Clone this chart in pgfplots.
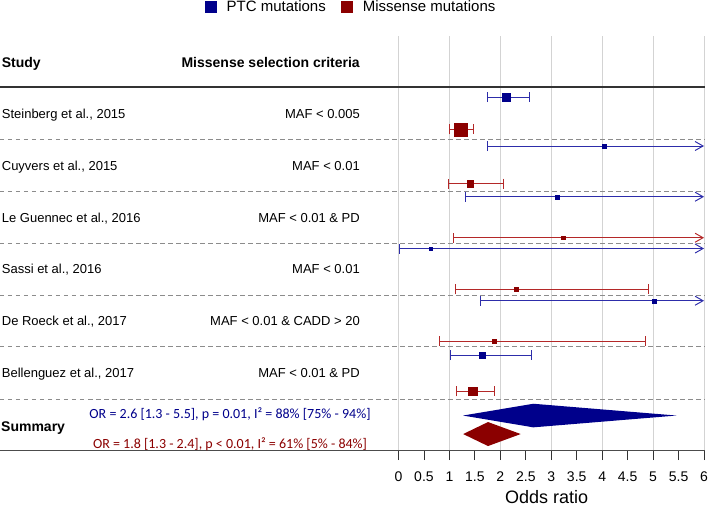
\documentclass[border=0pt]{standalone}
\usepackage{pgfplots}
\pgfplotsset{compat=1.18}
\usepackage{fontspec}
\setmainfont{Liberation Sans}
\newfontfamily\carlito{Carlito}
\usetikzlibrary{arrows.meta}
\definecolor{ptc}{RGB}{0,0,139}
\definecolor{mis}{RGB}{139,0,0}
\definecolor{ptcl}{RGB}{45,45,170}
\definecolor{misl}{RGB}{180,40,40}
\definecolor{gridc}{RGB}{211,211,211}
\definecolor{dashc}{RGB}{140,140,140}
\pgfplotsset{
  ci/.style={line width=0.95pt, no marks, forget plot},
  both/.style={arrows={Bar[width=10pt]-Bar[width=10pt]}},
  open/.style={arrows={Bar[width=10pt]-Straight Barb[length=8pt,width=9pt]}},
  pt/.style={only marks, mark=square*, forget plot, mark options={draw=none}},
}
\begin{document}
\begin{tikzpicture}
\begin{axis}[
  scale only axis, width=305.5pt, height=414pt,
  xmin=0, xmax=6, ymin=-450, ymax=-36,
  axis y line=none, axis x line*=bottom,
  axis line style={draw=none},
  xtick={0,1,...,6}, extra x ticks={0.5,1.5,...,5.5},
  extra x tick style={grid=none},
  xmajorgrids, grid style={gridc, line width=0.8pt},
  tick align=outside, major tick length=10pt,
  tick style={black!80, line width=0.8pt},
  /pgf/number format/assume math mode=true,
  xticklabel style={font=\fontsize{14}{16}\selectfont, yshift=-8pt},
  clip=false,
  legend columns=2,
  legend style={draw=none, fill=none, at={(axis cs:-0.933,-7)}, anchor=center,
    font=\fontsize{15}{18}\selectfont,
    /tikz/every even column/.append style={column sep=13pt}},
  legend image code/.code={\fill[#1] (0pt,-6.2pt) rectangle (12.4pt,6.2pt); \path (20pt,0pt);},
]
\addlegendimage{fill=ptc, draw=none}
\addlegendentry{PTC mutations}
\addlegendimage{fill=mis, draw=none}
\addlegendentry{Missense mutations}

% separators
\draw[black!80, line width=1.2pt] (axis cs:-7.826,-87) -- (axis cs:6.01,-87);
\pgfplotsinvokeforeach{-139.7,-191.7,-243.3,-295,-346.7,-399}{
  \draw[dashc, line width=0.9pt, dash pattern=on 4.5pt off 3.5pt] (axis cs:-7.826,#1) -- (axis cs:6.01,#1);
}
\draw[black!70, line width=1.5pt] (axis cs:-7.826,-450.3) -- (axis cs:6.01,-450.3);

% Steinberg
\addplot[ptcl, ci, both] coordinates {(1.744,-97) (2.577,-97)};
\addplot[ptc, pt, mark size=4pt] coordinates {(2.11,-97)};
\addplot[misl, ci, both] coordinates {(0.998,-129.3) (1.483,-129.3)};
\addplot[mis, pt, mark size=6.5pt] coordinates {(1.214,-129.3)};
% Cuyvers
\addplot[ptcl, ci, open] coordinates {(1.744,-146) (6,-146)};
\addplot[ptc, pt, mark size=1.75pt] coordinates {(4.036,-146)};
\addplot[misl, ci, both] coordinates {(0.972,-183.7) (2.072,-183.7)};
\addplot[mis, pt, mark size=3.3pt] coordinates {(1.41,-183.7)};
% Le Guennec
\addplot[ptcl, ci, open] coordinates {(1.30,-196.7) (6,-196.7)};
\addplot[ptc, pt, mark size=2pt] coordinates {(3.126,-196.7)};
\addplot[misl, ci, open] coordinates {(1.064,-237.7) (6,-237.7)};
\addplot[mis, pt, mark size=1.75pt] coordinates {(3.23,-237.7)};
% Sassi
\addplot[ptcl, ci, open] coordinates {(0.01,-248.5) (6,-248.5)};
\addplot[ptc, pt, mark size=1.75pt] coordinates {(0.632,-248.5)};
\addplot[misl, ci, both] coordinates {(1.104,-289.3) (4.914,-289.3)};
\addplot[mis, pt, mark size=2pt] coordinates {(2.321,-289.3)};
% De Roeck
\addplot[ptcl, ci, open] coordinates {(1.595,-300.7) (6,-300.7)};
\addplot[ptc, pt, mark size=2pt] coordinates {(5.012,-300.7)};
\addplot[misl, ci, both] coordinates {(0.789,-341) (4.855,-341)};
\addplot[mis, pt, mark size=2pt] coordinates {(1.881,-341)};
% Bellenguez
\addplot[ptcl, ci, both] coordinates {(1.011,-355) (2.628,-355)};
\addplot[ptc, pt, mark size=3pt] coordinates {(1.634,-355)};
\addplot[misl, ci, both] coordinates {(1.129,-391.3) (1.901,-391.3)};
\addplot[mis, pt, mark size=4.3pt] coordinates {(1.457,-391.3)};
% Summary diamonds
\addplot[fill=ptc, draw=none, no marks, forget plot] coordinates {(1.267,-415.5) (2.647,-403.7) (5.46,-415.5) (2.647,-427.3) (1.267,-415.5)};
\addplot[fill=mis, draw=none, no marks, forget plot] coordinates {(1.27,-434) (1.758,-422) (2.40,-434) (1.758,-446) (1.27,-434)};

% Text
\tikzset{st/.style={font=\fontsize{13}{15}\selectfont, inner sep=0pt}}
\tikzset{hd/.style={font=\fontsize{14}{16}\selectfont\bfseries, inner sep=0pt}}
\node[hd, anchor=base west] at (axis cs:-7.793,-67.3) {Study};
\node[hd, anchor=base east] at (axis cs:-0.756,-67.3) {Missense selection criteria};
\node[st, anchor=base west] at (axis cs:-7.793,-118.1) {Steinberg et al., 2015};
\node[st, anchor=base west] at (axis cs:-7.793,-170.4) {Cuyvers et al., 2015};
\node[st, anchor=base west] at (axis cs:-7.793,-222.2) {Le Guennec et al., 2016};
\node[st, anchor=base west] at (axis cs:-7.793,-273.9) {Sassi et al., 2016};
\node[st, anchor=base west] at (axis cs:-7.793,-325.6) {De Roeck et al., 2017};
\node[st, anchor=base west] at (axis cs:-7.793,-377.6) {Bellenguez et al., 2017};
\node[st, anchor=base east] at (axis cs:-0.756,-118.1) {MAF < 0.005};
\node[st, anchor=base east] at (axis cs:-0.756,-170.4) {MAF < 0.01};
\node[st, anchor=base east] at (axis cs:-0.756,-222.2) {MAF < 0.01 \& PD};
\node[st, anchor=base east] at (axis cs:-0.756,-273.9) {MAF < 0.01};
\node[st, anchor=base east] at (axis cs:-0.756,-325.6) {MAF < 0.01 \& CADD > 20};
\node[st, anchor=base east] at (axis cs:-0.756,-377.6) {MAF < 0.01 \& PD};
\node[hd, anchor=base west] at (axis cs:-7.806,-431.7) {Summary};
\node[anchor=base, inner sep=0pt, text=ptc, font=\carlito\fontsize{14}{16}\selectfont] at (axis cs:-3.309,-418.2) {OR = 2.6 [1.3 - 5.5], p = 0.01, I² = 88\% [75\% - 94\%]};
\node[anchor=base, inner sep=0pt, text=mis, font=\carlito\fontsize{14}{16}\selectfont] at (axis cs:-3.309,-448.8) {OR = 1.8 [1.3 - 2.4], p < 0.01, I² = 61\% [5\% - 84\%]};
\node[anchor=base, inner sep=0pt, font=\fontsize{18}{20}\selectfont] at (axis cs:2.91,-503.5) {Odds ratio};

\coordinate (bbSW) at (axis cs:-7.826,-506);
\coordinate (bbNE) at (axis cs:6.078,0);
\end{axis}
\pgfresetboundingbox
\path (bbSW) rectangle (bbNE);
\end{tikzpicture}
\end{document}
